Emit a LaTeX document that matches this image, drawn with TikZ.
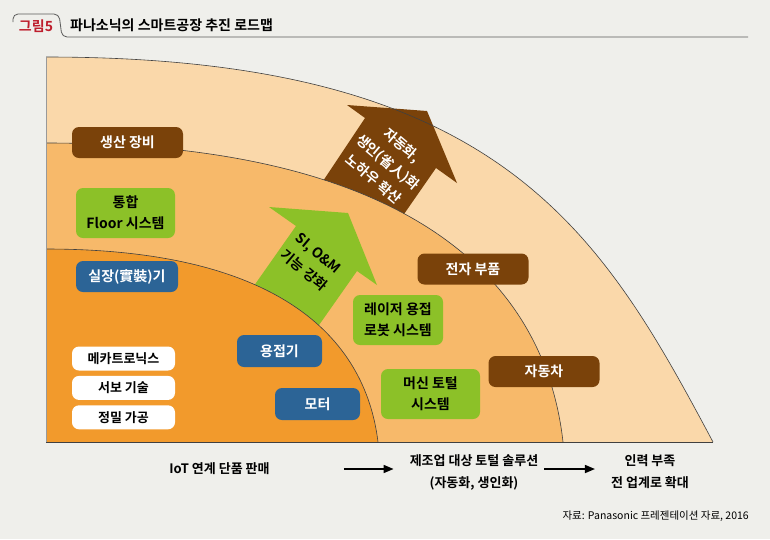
\documentclass[tikz,border=0pt]{standalone}
\usepackage{fontspec}
\setmainfont{Noto Sans CJK KR}[BoldFont={Noto Sans CJK KR Bold}]
\usetikzlibrary{
  arrows.meta,
  positioning
}
\definecolor{pnbg}{HTML}{EFEFEB}
\definecolor{pnpeach}{HTML}{FAD8AA}
\definecolor{pnlight}{HTML}{F7B96A}
\definecolor{pnorange}{HTML}{F29A2C}
\definecolor{pnbrown}{HTML}{7A420A}
\definecolor{pngreen}{HTML}{8CC128}
\definecolor{pnblue}{HTML}{2C6496}
\definecolor{pnred}{HTML}{BE1E2D}

\begin{document}
\begin{tikzpicture}[
  x=1pt, y=-1pt,
  tag/.style={rounded corners=7pt, minimum height=31pt, inner sep=2pt,
    font=\fontsize{14}{16}\selectfont\bfseries, align=center},
  browntag/.style={tag, fill=pnbrown, text=white, minimum width=111pt},
  greentag/.style={tag, fill=pngreen, text=black, minimum height=50pt,
    font=\fontsize{14}{21}\selectfont\bfseries},
  bluetag/.style={tag, fill=pnblue, text=white, minimum width=85pt, minimum height=32pt},
  whitetag/.style={tag, fill=white, minimum width=103pt, minimum height=24pt,
    font=\fontsize{13}{14}\selectfont\bfseries},
  arcline/.style={draw=black!75, line width=0.6pt},
  flow/.style={line width=1.6pt, -{Triangle[length=10pt, width=8pt]}},
  caption/.style={font=\fontsize{13}{22}\selectfont\bfseries, align=center, inner sep=0pt},
  arrowtext/.style={font=\fontsize{14}{22}\selectfont\bfseries, align=center,
    rotate=-40, inner sep=0pt}
]

  \useasboundingbox (0,0) rectangle (770,539);
  \fill[pnbg] (0,0) rectangle (770,539);

  % title
  \draw[black!65, line width=0.8pt, rounded corners=5pt]
    (13,22) -- (13,14) -- (59,14) -- (62,37) -- (748,37);
  \node[text=pnred, font=\fontsize{14}{16}\selectfont\bfseries, inner sep=0pt] (fig) at (36,26) {그림5};
  \node[font=\fontsize{14}{16}\selectfont\bfseries, anchor=west, inner sep=0pt] (title) at (70,25)
    {파나소닉의 스마트공장 추진 로드맵};

  % bands
  \fill[pnpeach] (46,442) -- (46,57) .. controls (500,57) and (600,230) .. (713,442) -- cycle;
  \fill[pnbrown] (315,193) -- (365,118) -- (347,105) -- (427,111) -- (457,183)
    -- (436,168) -- (386,240) -- cycle;
  \fill[pnlight] (46,442) -- (46,143) .. controls (410,143) and (545,280) .. (563,442) -- cycle;
  \fill[pngreen] (244,300) -- (296,226) -- (269,207) -- (348,213) -- (377,285)
    -- (357,271) -- (305,345) -- cycle;
  \fill[pnorange] (46,442) -- (46,249) .. controls (275,249) and (365,335) .. (378,442) -- cycle;

  \draw[arcline] (46,57) .. controls (500,57) and (600,230) .. (713,442);
  \draw[arcline] (46,143) .. controls (410,143) and (545,280) .. (563,442);
  \draw[arcline] (46,249) .. controls (275,249) and (365,335) .. (378,442);
  \draw[arcline] (46,442) -- (713,442);
  \draw[black!40, line width=0.8pt] (46,57) -- (46,442);

  \node[arrowtext, text=white] (spread) at (388,162) {자동화,\\생인(省人)화\\노하우 확산};
  \node[arrowtext] (sioam) at (311,262) {SI, O\&M\\기능 강화};

  \node[browntag] (equip) at (127.5,142.5) {생산 장비};
  \node[greentag, minimum width=99pt] (floor) at (125.5,213) {통합\\Floor 시스템};
  \node[bluetag, minimum width=102pt, minimum height=31pt] (mount) at (127,276.5) {실장(實裝)기};
  \node[whitetag] (mecha) at (123.5,358.5) {메카트로닉스};
  \node[whitetag, below=5pt of mecha] (servo) {서보 기술};
  \node[whitetag, below=5pt of servo] (precise) {정밀 가공};
  \node[bluetag] (welder) at (279.5,351) {용접기};
  \node[bluetag] (motor) at (317.5,404) {모터};
  \node[greentag, minimum width=90pt] (laser) at (398,320) {레이저 용접\\로봇 시스템};
  \node[greentag, minimum width=99pt] (machine) at (430.5,394) {머신 토털\\시스템};
  \node[browntag] (parts) at (473,269) {전자 부품};
  \node[browntag] (car) at (544,371.5) {자동차};

  % roadmap
  \node[caption] (iot) at (219.5,469) {IoT 연계 단품 판매};
  \node[caption] (total) at (474,472) {제조업 대상 토털 솔루션\\(자동화, 생인화)};
  \node[caption] (labor) at (650,472) {인력 부족\\전 업계로 확대};
  \draw[flow, shorten <=74pt, shorten >=16pt] (iot.east) -- (iot.east -| total.west);
  \draw[flow, shorten <=6pt, shorten >=16pt] (iot.east -| total.east) -- (iot.east -| labor.west);

  \node[font=\fontsize{10.5}{13}\selectfont, anchor=east, inner sep=0pt] (source) at (749,516)
    {자료: Panasonic 프레젠테이션 자료, 2016};

\end{tikzpicture}
\end{document}
